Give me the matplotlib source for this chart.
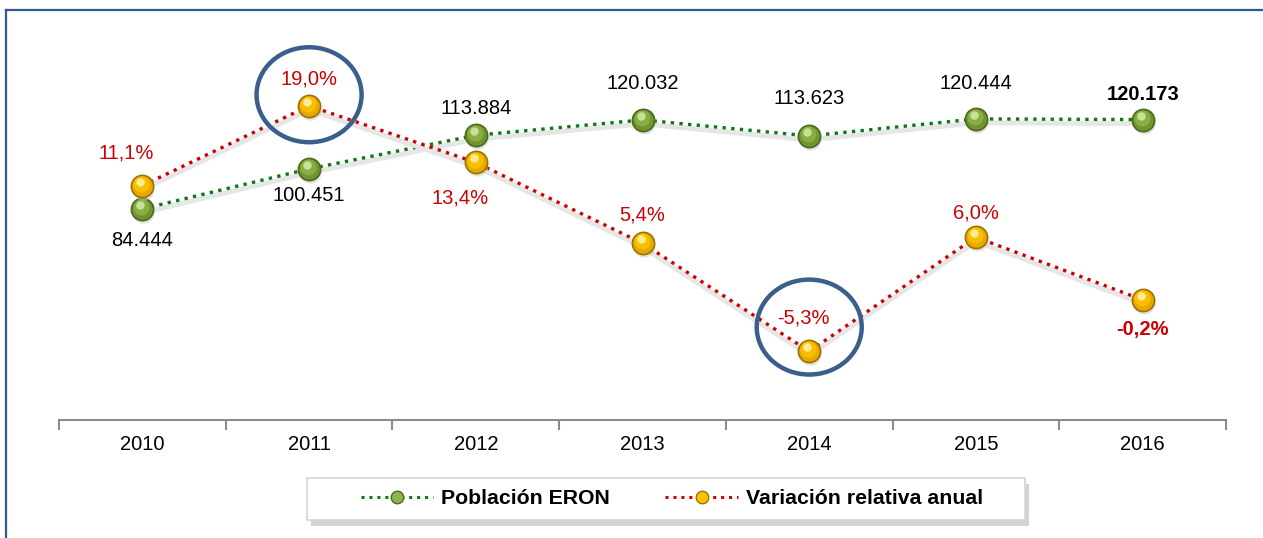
import matplotlib
matplotlib.use("Agg")
from matplotlib import pyplot as plt
from matplotlib.lines import Line2D
from matplotlib.patches import Ellipse, Rectangle
from matplotlib.transforms import offset_copy
import numpy as np

plt.rcParams['font.family'] = ['Liberation Sans', 'DejaVu Sans']

years = ['2010', '2011', '2012', '2013', '2014', '2015', '2016']
poblacion = [84444, 100451, 113884, 120032, 113623, 120444, 120173]
variacion = [11.1, 19.0, 13.4, 5.4, -5.3, 6.0, -0.2]
pob_labels = ['84.444', '100.451', '113.884', '120.032', '113.623', '120.444', '120.173']
var_labels = ['11,1%', '19,0%', '13,4%', '5,4%', '-5,3%', '6,0%', '-0,2%']

green_line = '#0b7a10'
red_line = '#d00000'
red_text = '#cc0000'
ring = '#3b5f8c'

W, H = 1263, 538
fig = plt.figure(figsize=(W/100, H/100), dpi=100)
ax = fig.add_axes([59/W, 1-420/H, (1226-59)/W, 400/H])
ax2 = ax.twinx()

x = np.arange(len(years))

def sphere(a, xs, ys, edge, face, mid, light, size):
	sh = offset_copy(a.transData, fig=fig, x=1, y=-3, units='dots')
	a.plot(xs, ys, ls='none', marker='o', ms=size, mfc='#c8c8c8', mec='none', alpha=0.5, transform=sh, zorder=4)
	a.plot(xs, ys, ls='none', marker='o', ms=size, mfc=face, mec=edge, mew=1.2, zorder=5)
	hl = offset_copy(a.transData, fig=fig, x=-1, y=2, units='dots')
	a.plot(xs, ys, ls='none', marker='o', ms=size*0.72, mfc=mid, mec='none', alpha=0.8, transform=hl, zorder=6)
	hl2 = offset_copy(a.transData, fig=fig, x=-2, y=4, units='dots')
	a.plot(xs, ys, ls='none', marker='o', ms=size*0.38, mfc=light, mec='none', alpha=0.9, transform=hl2, zorder=7)

def shadowed_line(a, xs, ys, color):
	sh = offset_copy(a.transData, fig=fig, x=0, y=-4, units='dots')
	a.plot(xs, ys, color='#e6e6e6', lw=3.5, transform=sh, zorder=2)
	a.plot(xs, ys, color=color, lw=2.4, ls=(0, (1, 1.6)), zorder=3)

# poblacion on left axis
shadowed_line(ax, x, poblacion, green_line)
sphere(ax, x, poblacion, '#4d6a1c', '#6f9430', '#8fb44a', '#cfe6a0', 16)
ax.set_ylim(0, 160000)
ax.set_xlim(-0.5, len(years)-0.5)

# variacion on right axis
shadowed_line(ax2, x, variacion, red_line)
sphere(ax2, x, variacion, '#9a7400', '#e8a800', '#ffc400', '#fff0a0', 16)
ax2.set_ylim(-12.1, 27.5)

pob_off = [(0, -32), (0, -27), (0, 27), (0, 36), (0, 37), (0, 35), (0, 25)]
for i, (v, t) in enumerate(zip(poblacion, pob_labels)):
	bold = i == len(poblacion)-1
	ax.annotate(t, (x[i], v), xytext=pob_off[i], textcoords='offset pixels',
		ha='center', va='center', fontsize=14.5, color='black',
		fontweight='bold' if bold else 'normal', zorder=8)

var_off = [(-16, 33), (0, 27), (-16, -36), (0, 28), (-6, 33), (0, 24), (0, -30)]
for i, (v, t) in enumerate(zip(variacion, var_labels)):
	bold = i == len(variacion)-1
	ax2.annotate(t, (x[i], v), xytext=var_off[i], textcoords='offset pixels',
		ha='center', va='center', fontsize=14.5, color=red_text,
		fontweight='bold' if bold else 'normal', zorder=8)

# rings around 2011 and 2014
ax2.add_patch(Ellipse((1, variacion[1]+1.1), 0.63, 9.4, fill=False, ec=ring, lw=3.2, zorder=9))
ax2.add_patch(Ellipse((4, variacion[4]+2.4), 0.63, 9.4, fill=False, ec=ring, lw=3.2, zorder=9))

for a in (ax, ax2):
	for s in ('top', 'left', 'right'):
		a.spines[s].set_visible(False)
	a.set_yticks([])
ax2.spines['bottom'].set_visible(False)
ax.spines['bottom'].set_color('#8c8c8c')
ax.spines['bottom'].set_linewidth(1.5)
ax.set_xticks(x)
ax.set_xticklabels(years, fontsize=14.5)
ax.tick_params(axis='x', which='major', length=0, pad=11)
ax.set_xticks(np.arange(len(years)+1)-0.5, minor=True)
ax.tick_params(axis='x', which='minor', length=7, width=1.5, color='#8c8c8c')
ax.patch.set_visible(False)

# outer frame (left and top only)
fig.add_artist(Line2D([6/W, 6/W], [0, 1-10/H], color='#2f5b8e', lw=1.6))
fig.add_artist(Line2D([6/W, 1], [1-10/H, 1-10/H], color='#2f5b8e', lw=1.6))

# legend box with shadow
fig.add_artist(Rectangle((311/W, 1-526/H), 718/W, 42/H, transform=fig.transFigure,
	fc='#b4b4b4', ec='none', alpha=0.6, zorder=1))
fig.add_artist(Rectangle((307/W, 1-520/H), 718/W, 42/H, transform=fig.transFigure,
	fc='white', ec='#d4d4d4', lw=1.2, zorder=2))

handles = [
	Line2D([], [], color=green_line, lw=2.2, ls=(0, (1, 1.6)), marker='o', ms=9,
		mfc='#8fb44a', mec='#4d6a1c'),
	Line2D([], [], color=red_line, lw=2.2, ls=(0, (1, 1.6)), marker='o', ms=9,
		mfc='#ffc000', mec='#9a7400'),
]
leg = fig.legend(handles, ['Población ERON', 'Variación relativa anual'],
	loc='center', bbox_to_anchor=(672/W, 1-499/H), ncol=2, frameon=False,
	handlelength=3.4, handletextpad=0.4, columnspacing=2.6,
	prop={'weight': 'bold', 'size': 15.3})
leg.set_zorder(3)

fig.savefig('out.png', dpi=100)
